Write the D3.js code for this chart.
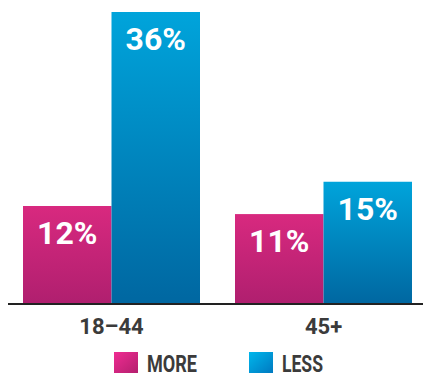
<!DOCTYPE html>
<html><head><meta charset="utf-8">
<script src="https://cdn.jsdelivr.net/npm/d3@7"></script>
<style>html,body{margin:0;padding:0;background:#fff;}svg{display:block;}</style>
</head><body>
<script>
const categories = ["18–44", "45+"];
const seriesNames = ["MORE", "LESS"];
const moreValues = [12, 11];
const lessValues = [36, 15];
const valueLabels = [["12%", "36%"], ["11%", "15%"]];

const W = 423, H = 373;
const svg = d3.select("body").append("svg").attr("width", W).attr("height", H);
const defs = svg.append("defs");

function vgrad(id, top, bottom) {
  const g = defs.append("linearGradient").attr("id", id).attr("x1", 0).attr("y1", 0).attr("x2", 0).attr("y2", 1);
  g.append("stop").attr("offset", 0).attr("stop-color", top);
  g.append("stop").attr("offset", 1).attr("stop-color", bottom);
}
function dgrad(id, a, b) {
  const g = defs.append("linearGradient").attr("id", id).attr("x1", 0).attr("y1", 0).attr("x2", 1).attr("y2", 1);
  g.append("stop").attr("offset", 0).attr("stop-color", a);
  g.append("stop").attr("offset", 1).attr("stop-color", b);
}
vgrad("gMore", "#d8297f", "#b01f6f");
vgrad("gLess", "#00a4db", "#0067a1");
dgrad("lMore", "#ef2c92", "#b41f6e");
dgrad("lLess", "#00b7ec", "#0079c0");
const fills = ["url(#gMore)", "url(#gLess)"];
const legendFills = ["url(#lMore)", "url(#lLess)"];

const x0 = d3.scaleBand().domain(categories).range([23, 412]).paddingInner(35 / 212).paddingOuter(0);
const x1 = d3.scaleBand().domain(seriesNames).range([0, x0.bandwidth()]).padding(0);
const y = d3.scaleLinear().domain([0, 36]).range([303, 12]);

const data = categories.map((c, i) => ({
  cat: c,
  vals: [
    { s: "MORE", v: moreValues[i], label: valueLabels[i][0], k: 0 },
    { s: "LESS", v: lessValues[i], label: valueLabels[i][1], k: 1 }
  ]
}));

const groups = svg.selectAll("g.grp").data(data).join("g")
  .attr("class", "grp")
  .attr("transform", d => `translate(${x0(d.cat)},0)`);

groups.selectAll("rect").data(d => d.vals).join("rect")
  .attr("x", d => x1(d.s))
  .attr("y", d => y(d.v))
  .attr("width", x1.bandwidth())
  .attr("height", d => y(0) - y(d.v))
  .attr("fill", d => fills[d.k]);

groups.selectAll("text.val").data(d => d.vals).join("text")
  .attr("class", "val")
  .attr("x", d => x1(d.s) + x1.bandwidth() / 2)
  .attr("y", d => y(d.v) + 38)
  .attr("text-anchor", "middle")
  .attr("fill", "#fff")
  .attr("font-family", "Roboto, sans-serif")
  .attr("font-weight", "bold")
  .attr("font-size", 32)
  .text(d => d.label);

// baseline
svg.append("line").attr("x1", 8).attr("x2", 423).attr("y1", 304).attr("y2", 304)
  .attr("stroke", "#222").attr("stroke-width", 2);

// category labels
const xAxis = d3.axisBottom(x0).tickSize(0).tickPadding(0);
const ax = svg.append("g").attr("transform", "translate(0,303)").call(xAxis);
ax.select(".domain").remove();
ax.selectAll("text")
  .attr("y", 31).attr("dy", 0)
  .attr("fill", "#3b3b3b")
  .attr("font-family", "Roboto, sans-serif")
  .attr("font-weight", "bold")
  .attr("font-size", 22);

// legend
const legendX = [114, 249];
const legendTextW = [50, 41];
const lg = svg.selectAll("g.leg").data(seriesNames).join("g").attr("class", "leg")
  .attr("transform", (d, i) => `translate(${legendX[i]},352)`);
lg.append("rect").attr("width", 24).attr("height", 21).attr("fill", (d, i) => legendFills[i]);
lg.append("text").attr("x", 33).attr("y", 20)
  .attr("fill", "#3b3b3b")
  .attr("font-family", "Roboto, sans-serif")
  .attr("font-weight", "bold")
  .attr("font-size", 23)
  .attr("textLength", (d, i) => legendTextW[i])
  .attr("lengthAdjust", "spacingAndGlyphs")
  .text(d => d);
</script>
</body></html>
